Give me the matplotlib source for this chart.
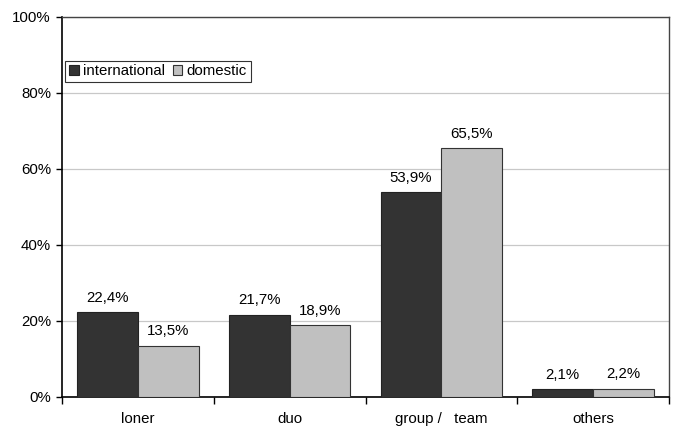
import matplotlib
matplotlib.use("Agg")
import matplotlib.pyplot as plt
import numpy as np
from matplotlib.ticker import MultipleLocator, FuncFormatter

categories = ["loner", "duo", "group /   team", "others"]
international = [22.4, 21.7, 53.9, 2.1]
domestic = [13.5, 18.9, 65.5, 2.2]

plt.rcParams["font.family"] = ["Liberation Sans", "DejaVu Sans"]
FS = 10.8

fig = plt.figure(figsize=(6.77, 4.28), dpi=100)
ax = fig.add_axes([62 / 677, 1 - 397 / 428, 607 / 677, 380 / 428])

x = np.arange(len(categories))
w = 0.4
bars_int = ax.bar(x - w / 2, international, w, color="#333333", edgecolor="#222222",
                  linewidth=0.8, label="international", zorder=3)
bars_dom = ax.bar(x + w / 2, domestic, w, color="#c0c0c0", edgecolor="#333333",
                  linewidth=0.8, label="domestic", zorder=3)

for bars, vals in ((bars_int, international), (bars_dom, domestic)):
    for b, v in zip(bars, vals):
        ax.text(b.get_x() + b.get_width() / 2, v + 1.9, f"{v:.1f}%".replace(".", ","),
                ha="center", va="bottom", fontsize=FS)

ax.set_xlim(-0.5, len(categories) - 0.5)
ax.set_ylim(0, 100)
ax.yaxis.set_major_locator(MultipleLocator(20))
ax.yaxis.set_major_formatter(FuncFormatter(lambda v, _: f"{v:.0f}%"))
ax.grid(axis="y", color="#c8c8c8", linewidth=0.9, zorder=0)

# category labels centred, tick marks on the group boundaries
ax.set_xticks(x)
ax.set_xticklabels(categories, fontsize=FS)
ax.tick_params(axis="x", length=0, pad=11)
ax.set_xticks(np.arange(len(categories) + 1) - 0.5, minor=True)
ax.tick_params(axis="x", which="minor", length=5, width=1, color="black", direction="out")
ax.tick_params(axis="y", labelsize=FS, length=4, width=1, direction="out", pad=4)

for side in ("left", "bottom"):
    ax.spines[side].set_color("black")
    ax.spines[side].set_linewidth(1.2)
for side in ("top", "right"):
    ax.spines[side].set_color("#444444")
    ax.spines[side].set_linewidth(1.0)

leg = ax.legend(loc="upper left", bbox_to_anchor=(0.005, 0.885), ncol=2, fontsize=FS,
                frameon=True, fancybox=False, edgecolor="black", handlelength=0.65,
                handleheight=0.65, handletextpad=0.3, columnspacing=0.5,
                borderpad=0.25, borderaxespad=0)
leg.get_frame().set_linewidth(0.8)

fig.savefig("out.png", dpi=100, facecolor="white")
